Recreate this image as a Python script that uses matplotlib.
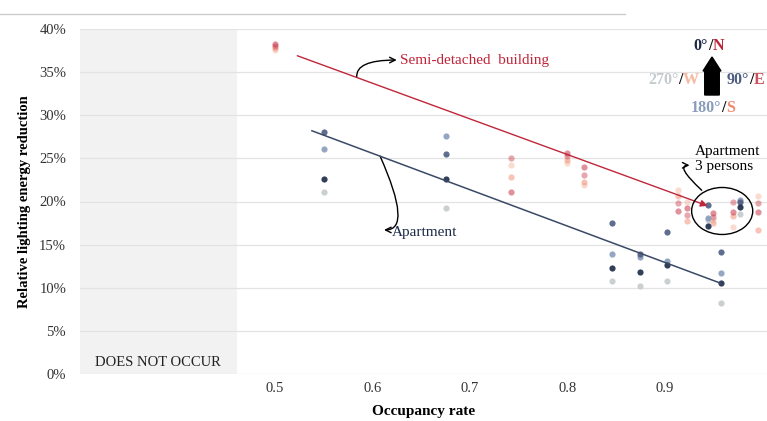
import numpy as np
import matplotlib
matplotlib.use("Agg")
import matplotlib.pyplot as plt
from matplotlib.patches import Ellipse, FancyArrow
from matplotlib.lines import Line2D

plt.rcParams['font.family'] = ['Liberation Serif', 'DejaVu Serif']

# Apartment (blue) points: occupancy rate and reduction per orientation (%)
apt_x = [0.550, 0.676, 0.846, 0.875, 0.902, 0.958, 0.944, 0.977]
apt_N = [22.6, 22.6, 12.3, 11.8, 12.6, 10.5, 17.2, 19.4]
apt_E = [28.1, 25.5, 17.5, 13.9, 16.5, 14.1, 19.6, 19.9]
apt_S = [26.1, 27.6, 13.9, 13.6, 13.1, 11.7, 18.1, 20.2]
apt_W = [21.1, 19.2, 10.8, 10.2, 10.8, 8.2, 17.8, 18.6]

# Semi-detached building (red) points
semi_x = [0.500, 0.742, 0.800, 0.817, 0.914, 0.923, 0.950, 0.970, 0.996]
semi_N = [38.3, 21.1, 25.6, 24.0, 18.9, 19.2, 18.7, 18.8, 18.8]
semi_E = [38.0, 25.0, 25.3, 23.1, 19.8, 18.4, 18.2, 19.9, 19.8]
semi_S = [37.8, 22.8, 24.8, 22.3, 20.6, 17.7, 17.5, 18.3, 16.7]
semi_W = [37.6, 24.2, 24.5, 21.9, 21.3, 20.0, 17.9, 17.1, 20.6]

# trend lines (start/end)
apt_fit_x = [0.538, 0.958]
apt_fit_y = [28.2, 10.5]
semi_fit_x = [0.523, 0.944]
semi_fit_y = [36.9, 19.5]

yticks = [0, 5, 10, 15, 20, 25, 30, 35, 40]
xticks = [0.5, 0.6, 0.7, 0.8, 0.9]

apt_cols = {'N': '#1c2a48', 'E': '#4d5e80', 'S': '#8a9cbc', 'W': '#c5cbce'}
semi_cols = {'N': '#c0263a', 'E': '#d0505c', 'S': '#f08a70', 'W': '#f6b8a0'}

fig = plt.figure(figsize=(7.67, 4.21), dpi=100)
ax = fig.add_axes([80 / 767, 1 - 374 / 421, 687 / 767, 345 / 421])
ax.set_xlim(0.3, 1.005)
ax.set_ylim(0, 40)

ax.axvspan(0.3, 0.461, color='#f2f2f2', zorder=0, lw=0)
for t in yticks:
    ax.axhline(t, color='#e3e3e3', lw=0.9, zorder=1)

for s in ax.spines.values():
    s.set_visible(False)
ax.set_yticks(yticks)
ax.set_yticklabels([f"{t}%" for t in yticks])
ax.set_xticks(xticks)
ax.set_xticklabels([str(t) for t in xticks])
ax.tick_params(length=0, labelsize=10.5, colors='#333333')
ax.tick_params(axis='y', pad=10)
ax.tick_params(axis='x', pad=6)

ax.set_ylabel("Relative lighting energy reduction", fontsize=10.5,
              fontweight='bold', labelpad=6)
ax.set_xlabel("Occupancy rate", fontsize=11, fontweight='bold', labelpad=7)

# points
for key, vals in [('W', semi_W), ('S', semi_S), ('E', semi_E), ('N', semi_N)]:
    ax.scatter(semi_x, vals, s=20, color=semi_cols[key], alpha=0.5,
               lw=0, zorder=3)
for key, vals in [('W', apt_W), ('S', apt_S), ('E', apt_E), ('N', apt_N)]:
    ax.scatter(apt_x, vals, s=20, color=apt_cols[key], alpha=0.9,
               lw=0, zorder=3)

# trend lines
ax.plot(apt_fit_x, apt_fit_y, color='#3a4a66', lw=1.1, zorder=4)
ax.annotate('', xy=(semi_fit_x[1], semi_fit_y[1]),
            xytext=(semi_fit_x[0], semi_fit_y[0]),
            arrowprops=dict(arrowstyle='-|>', color='#c0263a', lw=1.0,
                            mutation_scale=10, shrinkA=0, shrinkB=0),
            zorder=4)

# labels with curved arrows
ax.text(0.628, 36.3, "Semi-detached  building", color='#c0263a',
        fontsize=11, ha='left', va='center')
ax.annotate('', xy=(0.625, 36.4), xytext=(0.584, 34.4),
            arrowprops=dict(arrowstyle='->', color='black', lw=1,
                            shrinkA=0, shrinkB=0,
                            connectionstyle="angle3,angleA=95,angleB=0"))

ax.text(0.620, 16.35, "Apartment", color='#1c2a48', fontsize=11,
        ha='left', va='center')
ax.annotate('', xy=(0.612, 16.7), xytext=(0.608, 25.25),
            arrowprops=dict(arrowstyle='->', color='black', lw=1,
                            shrinkA=0, shrinkB=0,
                            connectionstyle="angle3,angleA=114,angleB=0"))

ax.text(0.931, 24.95, "Apartment\n3 persons", color='black', fontsize=11,
        ha='left', va='center', linespacing=1.25)
ax.annotate('', xy=(0.9255, 24.2), xytext=(0.938, 21.3),
            arrowprops=dict(arrowstyle='->', color='black', lw=1,
                            shrinkA=0, shrinkB=0,
                            connectionstyle="angle3,angleA=137,angleB=0"))
ax.add_patch(Ellipse((0.959, 18.9), 0.0627, 5.45, fill=False,
                     edgecolor='black', lw=1, zorder=5))

ax.text(0.38, 1.3, "DOES NOT OCCUR", fontsize=10.5, ha='center',
        va='center', color='#222222')

# top page line
fig.add_artist(Line2D([0, 625 / 767], [1 - 14 / 421, 1 - 14 / 421],
                      color='#cccccc', lw=1))


# compass legend built from coloured text pieces (pixel positions)
def text_width(s, renderer):
    t = fig.text(0, 0, s, fontsize=11.5, fontweight='bold')
    w = t.get_window_extent(renderer).width
    t.remove()
    return w


def multi_text(x, y, parts, ha='center'):
    renderer = fig.canvas.get_renderer()
    full = ''.join(p[0] for p in parts)
    total = text_width(full, renderer)
    if ha == 'center':
        left = x - total / 2
    elif ha == 'right':
        left = x - total
    else:
        left = x
    right = left + total
    for i, (s, c) in enumerate(parts):
        suffix = ''.join(p[0] for p in parts[i:])
        pos = right - text_width(suffix, renderer)
        fig.text(pos / 767, 1 - y / 421, s, color=c, fontsize=11.5,
                 fontweight='bold', va='center', ha='left')


multi_text(709, 46, [("0°", '#1c2a48'), ("/", '#111111'), ("N", '#c0263a')])
multi_text(699, 80, [("270°", '#c5cbce'), ("/", '#111111'), ("W", '#f6b8a0')],
           ha='right')
multi_text(727, 80, [("90°", '#4d5e80'), ("/", '#111111'), ("E", '#d0505c')],
           ha='left')
multi_text(713, 108, [("180°", '#8a9cbc'), ("/", '#111111'), ("S", '#f08a70')])

fig.add_artist(FancyArrow(
    712 / 767, 1 - 95 / 421, 0, 38 / 421, width=8 / 421, head_width=18 / 767,
    head_length=14 / 421, length_includes_head=True, color='black',
    transform=fig.transFigure))

fig.savefig("out.png", dpi=100)
